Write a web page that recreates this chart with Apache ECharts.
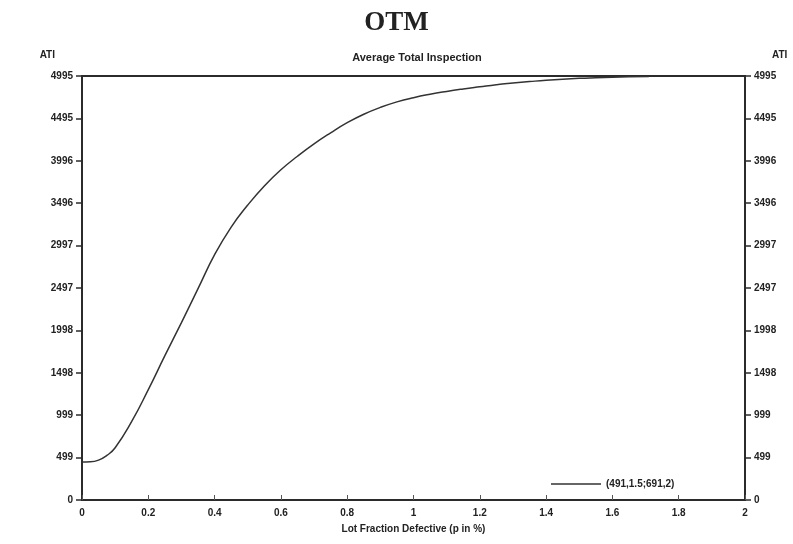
<!DOCTYPE html>
<html>
<head>
<meta charset="utf-8">
<title>OTM - Average Total Inspection</title>
<script src="https://cdn.jsdelivr.net/npm/echarts@6/dist/echarts.min.js"></script>
<style>
  html, body { margin: 0; padding: 0; background: #fff; }
  #chart { width: 793px; height: 544px; }
</style>
</head>
<body>
<div id="chart"></div>
<script>
// lot fraction defective p (in %) and the ATI
const pValues = [0, 0.025, 0.05, 0.075, 0.1, 0.15, 0.2, 0.25, 0.3, 0.35, 0.4, 0.45, 0.5, 0.55, 0.6, 0.65, 0.7, 0.75, 0.8,
  0.85, 0.9, 0.95, 1.0, 1.05, 1.1, 1.15, 1.2, 1.25, 1.3, 1.35, 1.4, 1.45, 1.5, 1.55, 1.6, 1.65, 1.71];
const atiValues = [448, 450, 470, 525, 615, 925, 1300, 1700, 2090, 2490, 2890, 3215, 3475, 3700, 3890, 4050, 4195, 4325, 4445,
  4545, 4625, 4690, 4740, 4780, 4813, 4842, 4868, 4893, 4912, 4929, 4945, 4958, 4968, 4975, 4981, 4986, 4990];

const seriesName = '(491,1.5;691,2)';
const yTickLabels = ['0', '499', '999', '1498', '1998', '2497', '2997', '3496', '3996', '4495', '4995'];
const yStep = 499.5;
const yMax = 4995;

const chart = echarts.init(document.getElementById('chart'), null, { renderer: 'canvas' });

const labelFont = { color: '#222', fontFamily: 'Liberation Sans, Arial, sans-serif', fontWeight: 'bold', fontSize: 10 };
const axisLineColor = '#2b2b2b';

function yLabel(v) {
  const i = Math.round(v / yStep);
  return yTickLabels[i] !== undefined ? yTickLabels[i] : '';
}

const yCommon = {
  type: 'value',
  min: 0,
  max: yMax,
  interval: yStep,
  name: 'ATI',
  nameLocation: 'end',
  nameGap: 16,
  splitLine: { show: false },
  axisLine: { show: true, lineStyle: { color: axisLineColor, width: 2 } },
  axisTick: { show: true, length: 6, lineStyle: { color: axisLineColor, width: 1.5 } },
  axisLabel: Object.assign({ margin: 9, formatter: yLabel }, labelFont)
};

chart.setOption({
  backgroundColor: '#fff',
  animation: false,
  title: [{
    text: 'OTM',
    left: 'center',
    top: 5,
    textStyle: { fontFamily: 'Liberation Serif, Times New Roman, serif', fontWeight: 'bold', fontSize: 27, color: '#222' }
  }, {
    text: 'Average Total Inspection',
    left: 412,
    textAlign: 'center',
    top: 47,
    textStyle: Object.assign({}, labelFont, { fontSize: 11 })
  }],
  legend: {
    left: 546,
    top: 474,
    itemWidth: 50,
    itemHeight: 12,
    itemGap: 0,
    textStyle: Object.assign({}, labelFont, { fontSize: 10 }),
    data: [{ name: seriesName, icon: 'path://M0,0 L50,0 L50,1.6 L0,1.6 Z', itemStyle: { color: '#333' } }]
  },
  grid: {
    left: 82,
    right: 48,
    top: 76,
    bottom: 44,
    show: true,
    borderColor: axisLineColor,
    borderWidth: 2
  },
  xAxis: {
    type: 'value',
    min: 0,
    max: 2,
    interval: 0.2,
    name: 'Lot Fraction Defective (p in %)',
    nameLocation: 'middle',
    nameGap: 24,
    nameTextStyle: Object.assign({}, labelFont, { fontSize: 10 }),
    splitLine: { show: false },
    axisLine: { lineStyle: { color: axisLineColor, width: 2 } },
    axisTick: { inside: true, length: 5, lineStyle: { color: '#555', width: 1 } },
    axisLabel: Object.assign({ margin: 8 }, labelFont)
  },
  yAxis: [
    Object.assign({}, yCommon, {
      position: 'left',
      nameTextStyle: Object.assign({ align: 'right', padding: [0, 27, 0, 0] }, labelFont)
    }),
    Object.assign({}, yCommon, {
      position: 'right',
      nameTextStyle: Object.assign({ align: 'left', padding: [0, 0, 0, 27] }, labelFont)
    })
  ],
  series: [{
    name: seriesName,
    type: 'line',
    yAxisIndex: 0,
    smooth: 0.5,
    symbol: 'none',
    lineStyle: { color: '#333', width: 1.5 },
    itemStyle: { color: '#333' },
    data: pValues.map((p, i) => [p, atiValues[i]])
  }]
});
</script>
</body>
</html>
